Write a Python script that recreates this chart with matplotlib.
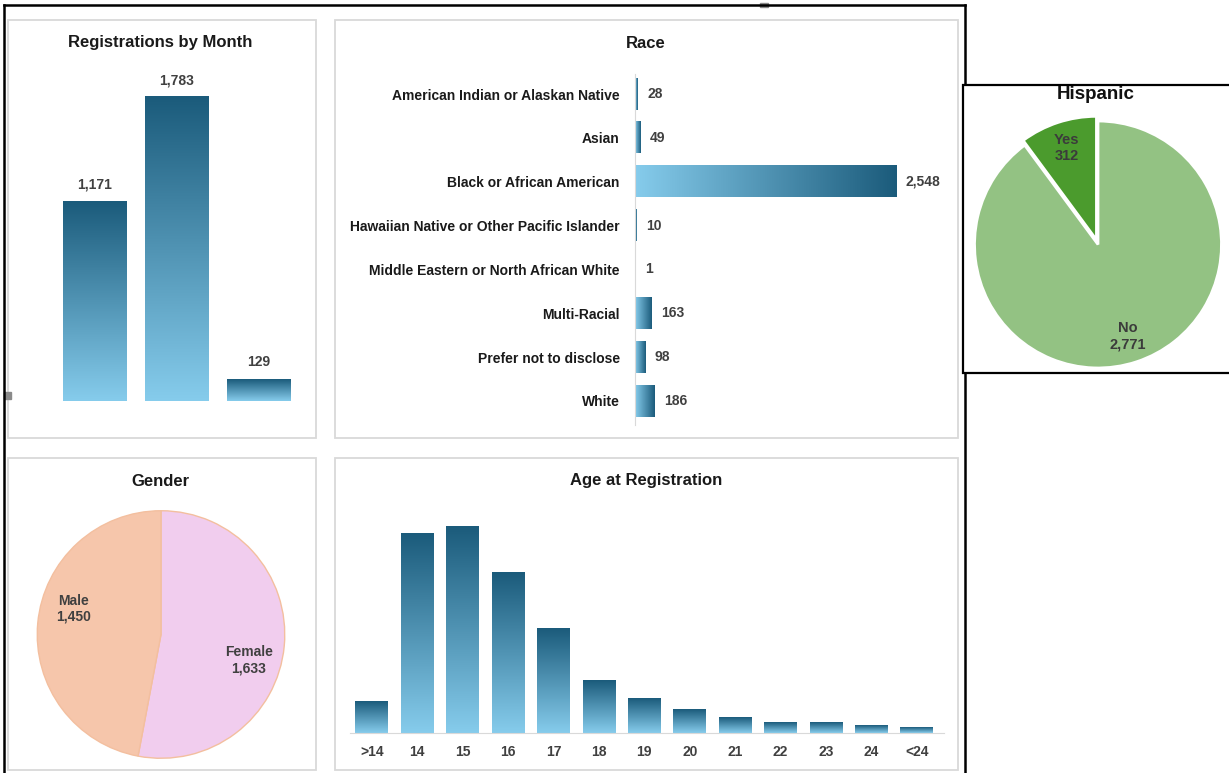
import numpy as np
import matplotlib
matplotlib.use("Agg")
import matplotlib.pyplot as plt
from matplotlib.colors import LinearSegmentedColormap
from matplotlib.patches import Rectangle

# ---- data ----
month_values = [1171, 1783, 129]

race_labels = ["American Indian or Alaskan Native", "Asian", "Black or African American",
               "Hawaiian Native or Other Pacific Islander", "Middle Eastern or North African White",
               "Multi-Racial", "Prefer not to disclose", "White"]
race_values = [28, 49, 2548, 10, 1, 163, 98, 186]

hisp_labels = ["Yes", "No"]
hisp_values = [312, 2771]

gender_labels = ["Female", "Male"]
gender_values = [1633, 1450]

age_labels = [">14", "14", "15", "16", "17", "18", "19", "20", "21", "22", "23", "24", "<24"]
age_values = [111, 712, 738, 575, 373, 188, 123, 84, 57, 39, 37, 27, 19]

# ---- estilo ----
W, H = 1229, 773
NARROW = dict(family=["Liberation Sans", "DejaVu Sans"], stretch="condensed")
ARIAL = dict(family=["Liberation Sans", "DejaVu Sans"])
VAL_COLOR = "#404040"
PANEL_EDGE = "#d9d9d9"
cmap_blu = LinearSegmentedColormap.from_list("blu", ["#86ccec", "#1b5b7b"])

fig = plt.figure(figsize=(W / 100, H / 100), dpi=100)


def px_axes(x0, y0, x1, y1):
    return fig.add_axes([x0 / W, 1 - y1 / H, (x1 - x0) / W, (y1 - y0) / H])


def gradiente(ax, bars, horizontal=False):
    # pinta cada barra con un degradado claro -> oscuro
    g = np.linspace(0, 1, 256)
    for b in bars:
        x, y = b.get_xy()
        w, h = b.get_width(), b.get_height()
        img = g.reshape(1, -1) if horizontal else g.reshape(-1, 1)
        ax.imshow(img, extent=(x, x + w, y, y + h), origin="lower", cmap=cmap_blu,
                  aspect="auto", zorder=2, interpolation="bilinear")
        b.set_facecolor("none")
        b.set_edgecolor("none")


def etiquetas_pie(wedges, texts, r, giro=0.0):
    # coloca las etiquetas sobre cada gajo, giradas un poco como en Excel
    for w, t in zip(wedges, texts):
        ang = np.deg2rad((w.theta1 + w.theta2) / 2 + giro)
        cx, cy = w.center
        t.set_position((cx + r * np.cos(ang), cy + r * np.sin(ang)))
        t.set_ha("center")
        t.set_va("center")


# fondo en pixeles
bg = px_axes(0, 0, W, H)
bg.set_xlim(0, W)
bg.set_ylim(H, 0)
bg.axis("off")

for (x0, y0, x1, y1) in [(8, 20, 316, 438), (335, 20, 958, 438), (8, 458, 316, 770), (335, 458, 958, 770)]:
    bg.add_patch(Rectangle((x0, y0), x1 - x0, y1 - y0, fill=False, ec=PANEL_EDGE, lw=1.3))

bg.plot([4, 4], [5, 773], color="black", lw=1.8)
bg.plot([4, 965], [5, 5], color="black", lw=1.8)
bg.plot([965, 965], [5, 773], color="black", lw=1.8)
bg.add_patch(Rectangle((963, 85), 270, 288, fc="white", ec="black", lw=1.6, zorder=3))
bg.add_patch(Rectangle((4, 392), 7, 7, color="#8a8a8a"))
bg.add_patch(Rectangle((760, 3), 8, 4, color="#8a8a8a"))

title_kw = dict(ha="center", va="center", fontsize=12, fontweight="bold", color="#1a1a1a", **NARROW)
bg.text(160, 43, "Registrations by Month", **title_kw)
bg.text(646, 43, "Race", **title_kw)
bg.text(160, 481, "Gender", **title_kw)
bg.text(646, 481, "Age at Registration", **title_kw)
bg.text(1096, 86, "Hispanic", ha="center", va="top", fontsize=13.5, fontweight="bold",
        color="#111111", zorder=4, **ARIAL)

# ---- Registrations by Month ----
ax1 = px_axes(17, 60, 308, 401)
bars = ax1.bar(range(len(month_values)), month_values, width=0.78)
gradiente(ax1, bars)
for b, v in zip(bars, month_values):
    ax1.annotate(f"{v:,}", (b.get_x() + b.get_width() / 2, v), xytext=(0, 7), textcoords="offset points",
                 ha="center", va="bottom", fontsize=10, fontweight="bold", color=VAL_COLOR, **NARROW)
ax1.set_xlim(-0.95, 2.6)
ax1.set_ylim(0, 2000)
ax1.axis("off")

# ---- Race ----
ax2 = px_axes(635, 74.3, 942.5, 425.1)
ypos = np.arange(len(race_values))
bars = ax2.barh(ypos, race_values, height=0.71)
gradiente(ax2, bars, horizontal=True)
for b, v in zip(bars, race_values):
    ax2.annotate(f"{v:,}", (v, b.get_y() + b.get_height() / 2), xytext=(7, 0), textcoords="offset points",
                 ha="left", va="center", fontsize=10, fontweight="bold", color=VAL_COLOR, **NARROW)
ax2.set_xlim(0, 3000)
ax2.set_ylim(7.55, -0.45)
ax2.set_yticks(ypos)
ax2.set_yticklabels(race_labels, fontsize=10, fontweight="bold", color="#1a1a1a", **NARROW)
ax2.tick_params(axis="y", length=0, pad=11)
ax2.set_xticks([])
for s in ["top", "right", "bottom"]:
    ax2.spines[s].set_visible(False)
ax2.spines["left"].set_color(PANEL_EDGE)
ax2.patch.set_alpha(0)

# ---- Age at Registration ----
ax3 = px_axes(350, 509, 944, 733)
xpos = np.arange(len(age_values))
bars = ax3.bar(xpos, age_values, width=0.72)
gradiente(ax3, bars)
ax3.set_xlim(-0.48, 12.6)
ax3.set_ylim(0, 800)
ax3.set_xticks(xpos)
ax3.set_xticklabels(age_labels, fontsize=10, fontweight="bold", color=VAL_COLOR, **NARROW)
ax3.tick_params(axis="x", length=0, pad=9)
ax3.set_yticks([])
for s in ["top", "right", "left"]:
    ax3.spines[s].set_visible(False)
ax3.spines["bottom"].set_color(PANEL_EDGE)
ax3.patch.set_alpha(0)

# ---- Gender ----
ax4 = px_axes(36, 509.5, 286, 759.5)
wedges, texts = ax4.pie(gender_values, labels=[f"{l}\n{v:,}" for l, v in zip(gender_labels, gender_values)],
                        colors=["#f1cdee", "#f6c6ab"], startangle=90, counterclock=False,
                        wedgeprops=dict(edgecolor="#f3bf9f", linewidth=1),
                        textprops=dict(fontsize=10, fontweight="bold", color=VAL_COLOR, **NARROW))
etiquetas_pie(wedges, texts, 0.74, giro=-11)
ax4.set_xlim(-1.01, 1.01)
ax4.set_ylim(-1.01, 1.01)

# ---- Hispanic ----
ax5 = px_axes(959.7, 106.2, 1236.3, 382.8)
wedges, texts = ax5.pie(hisp_values, labels=[f"{l}\n{v:,}" for l, v in zip(hisp_labels, hisp_values)],
                        colors=["#4b9b2d", "#93c283"], startangle=90, explode=[0.04, 0],
                        wedgeprops=dict(edgecolor="white", linewidth=2),
                        textprops=dict(fontsize=10.5, fontweight="bold", color="#3b3b3b", **ARIAL))
etiquetas_pie(wedges, texts, 0.78)
ax5.set_xlim(-1.12, 1.12)
ax5.set_ylim(-1.12, 1.12)
ax5.set_zorder(5)

fig.savefig("out.png", dpi=100)
